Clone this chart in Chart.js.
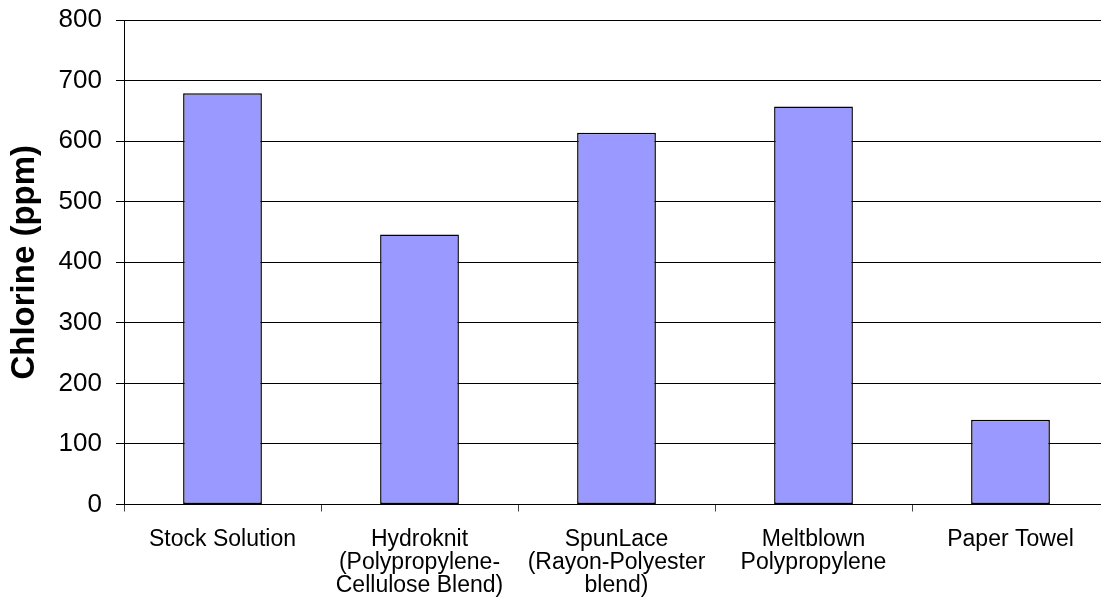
<!DOCTYPE html>
<html>
<head>
<meta charset="utf-8">
<title>Chlorine (ppm)</title>
<script src="https://cdn.jsdelivr.net/npm/chart.js@4/dist/chart.umd.min.js"></script>
<style>
  html, body { margin: 0; padding: 0; background: #fff; overflow: hidden; }
  #wrap { width: 1120px; height: 611px; }
</style>
</head>
<body>
<div id="wrap">
  <canvas id="chart" width="1120" height="611"></canvas>
</div>
<script>
const categories = [
  'Stock Solution',
  ['Hydroknit', '(Polypropylene-', 'Cellulose Blend)'],
  ['SpunLace', '(Rayon-Polyester', 'blend)'],
  ['Meltblown', 'Polypropylene'],
  'Paper Towel',
];
const chlorine = [679, 446, 614, 657, 140];
const yTicks = [0, 100, 200, 300, 400, 500, 600, 700, 800];

const FONT = "'Liberation Sans', Arial, sans-serif";

const config = {
  type: 'bar',
  data: {
    labels: categories,
    datasets: [
      {
        label: 'Chlorine',
        data: chlorine,
        backgroundColor: '#9999ff',
        borderColor: '#000',
        borderWidth: 1.5,
        borderSkipped: false,
        categoryPercentage: 1,
        barPercentage: 0.4,
      },
    ],
  },
  options: {
    responsive: false,
    animation: false,
    devicePixelRatio: 1,
    layout: {
      padding: { top: 20, right: 11, left: 0, bottom: 0 },
    },
    plugins: {
      legend: { display: false },
      tooltip: { enabled: false },
    },
    scales: {
      x: {
        offset: true,
        grid: {
          offset: true,
          drawOnChartArea: false,
          drawTicks: true,
          tickLength: 7,
          tickColor: '#444',
        },
        border: { display: true, color: '#000', width: 1 },
        ticks: {
          color: '#000',
          autoSkip: false,
          maxRotation: 0,
          minRotation: 0,
          padding: 17,
          font: { family: FONT, size: 23, lineHeight: 1.0 },
        },
        afterFit: (scale) => { scale.height = 106.5; },
      },
      y: {
        min: 0,
        max: 800,
        afterBuildTicks: (scale) => {
          scale.ticks = yTicks.map((v) => ({ value: v }));
        },
        grid: {
          color: '#000',
          lineWidth: 1,
          drawTicks: true,
          tickLength: 8,
          tickColor: '#000',
        },
        border: { display: true, color: '#000', width: 1 },
        ticks: {
          color: '#000',
          padding: 14,
          font: { family: FONT, size: 26 },
        },
        title: {
          display: true,
          text: 'Chlorine (ppm)',
          color: '#000',
          padding: { top: 5, bottom: 0 },
          font: { family: FONT, size: 33, weight: 'bold' },
        },
        afterFit: (scale) => {
          scale.width = 124;
          // the top label fits inside the layout padding
          scale.paddingTop = 0;
          scale.paddingBottom = 0;
        },
      },
    },
  },
};

new Chart(document.getElementById('chart'), config);
</script>
</body>
</html>
